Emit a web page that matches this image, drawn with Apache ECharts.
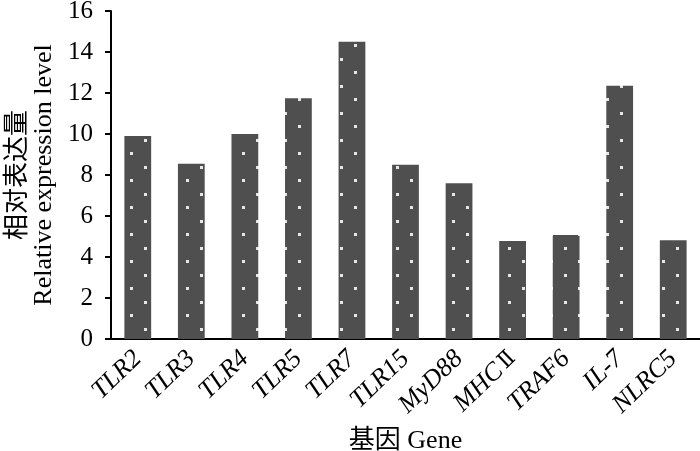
<!DOCTYPE html>
<html>
<head>
<meta charset="utf-8">
<script src="https://cdn.jsdelivr.net/npm/echarts@6/dist/echarts.min.js"></script>
<style>
  html, body { margin: 0; padding: 0; background: #fff; }
  #chart { width: 700px; height: 451px; }
</style>
</head>
<body>
<div id="chart"></div>
<script>
// gene names and relative expression values
var genes = ["TLR2", "TLR3", "TLR4", "TLR5", "TLR7", "TLR15", "MyD88", "MHCⅡ", "TRAF6", "IL-7", "NLRC5"];
var expression = [9.9, 8.55, 10.0, 11.75, 14.5, 8.5, 7.6, 4.78, 5.07, 12.35, 4.82];
var yTicks = { min: 0, max: 16, step: 2 };

var serif = '"Liberation Serif", "Noto Sans CJK SC", serif';

// dotted fill like the excel pattern
function dotPattern() {
  var c = document.createElement("canvas");
  c.width = 28;
  c.height = 27;
  var ctx = c.getContext("2d");
  ctx.fillStyle = "#4f4f4f";
  ctx.fillRect(0, 0, 28, 27);
  ctx.fillStyle = "#e6e6e6";
  ctx.fillRect(4, 4, 3, 3);
  ctx.fillRect(18, 17, 3, 3);
  return c;
}

// gene names italic, roman numeral upright
function geneLabel(name) {
  var m = name.match(/^(.*?)([Ⅰ-Ⅻ]+)$/);
  if (m) return "{i|" + m[1] + "}{n|" + m[2] + "}";
  return "{i|" + name + "}";
}

var chart = echarts.init(document.getElementById("chart"));
chart.setOption({
  backgroundColor: "#fff",
  animation: false,
  grid: { left: 111, right: 0, top: 11, bottom: 112, outerBoundsMode: "none" },
  xAxis: {
    type: "category",
    data: genes,
    name: "基因 Gene",
    nameLocation: "middle",
    nameGap: 89,
    nameMoveOverlap: false,
    nameTextStyle: { fontFamily: serif, fontSize: 26, color: "#000" },
    axisLine: { lineStyle: { color: "#000", width: 2 } },
    axisTick: { length: 6, lineStyle: { color: "#000", width: 2 } },
    axisLabel: {
      rotate: 44,
      margin: 16,
      interval: 0,
      formatter: geneLabel,
      rich: {
        i: { fontFamily: serif, fontStyle: "italic", fontSize: 26, color: "#000" },
        n: { fontFamily: '"DejaVu Serif", "Noto Sans CJK SC", serif', fontSize: 22, color: "#000", padding: [0, 0, 0, 3] }
      }
    }
  },
  yAxis: {
    type: "value",
    min: yTicks.min,
    max: yTicks.max,
    interval: yTicks.step,
    name: "相对表达量\nRelative expression level",
    nameLocation: "middle",
    nameGap: 53,
    nameTextStyle: { fontFamily: serif, fontSize: 26, lineHeight: 26, color: "#000" },
    splitLine: { show: false },
    axisLine: { show: true, lineStyle: { color: "#000", width: 2 } },
    axisTick: { show: true, length: 6, lineStyle: { color: "#000", width: 2 } },
    axisLabel: { fontFamily: serif, fontSize: 25, color: "#000", margin: 18 }
  },
  series: [{
    type: "bar",
    data: expression,
    barWidth: "50%",
    itemStyle: { color: { image: dotPattern(), repeat: "repeat" } }
  }]
});
</script>
</body>
</html>
